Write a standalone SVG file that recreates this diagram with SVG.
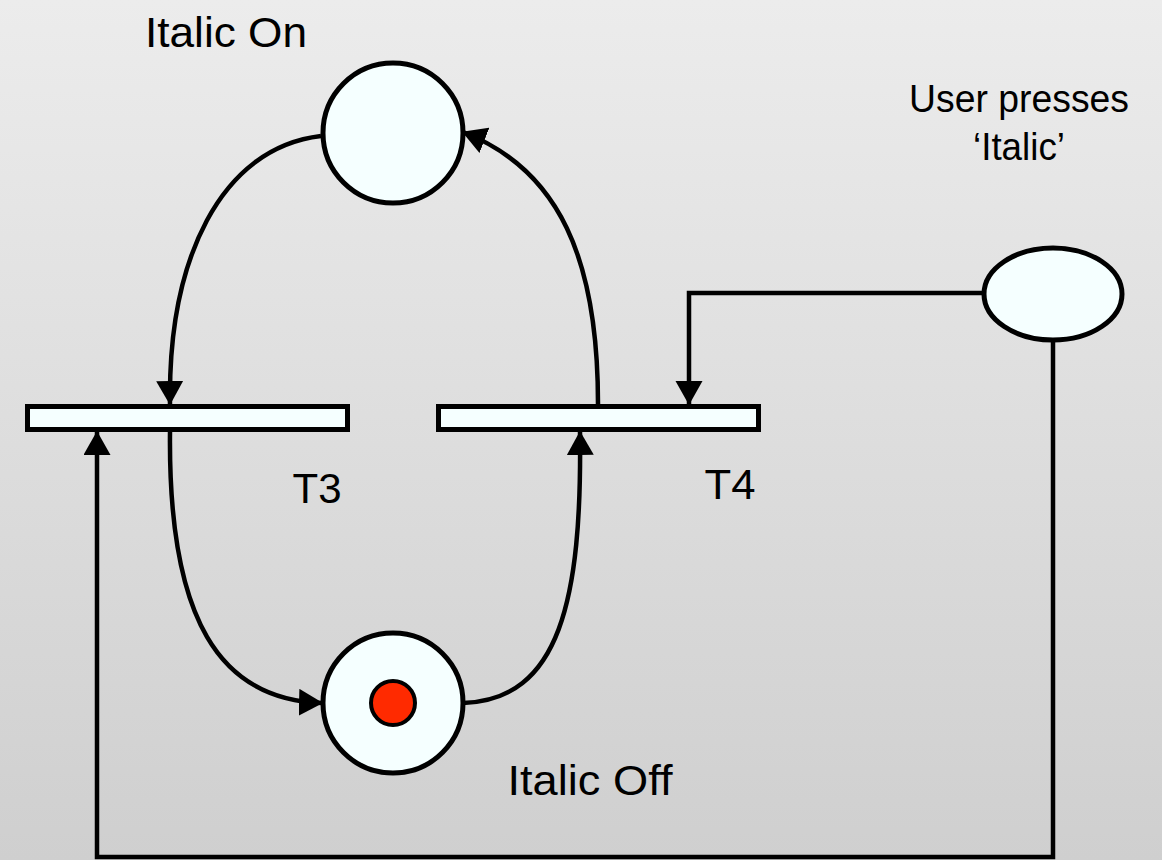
<svg xmlns="http://www.w3.org/2000/svg" width="1162" height="860" viewBox="0 0 1162 860">
<defs>
<linearGradient id="bg" x1="0" y1="0" x2="0" y2="1">
<stop offset="0" stop-color="#ececec"/>
<stop offset="1" stop-color="#cfcfcf"/>
</linearGradient>
<marker id="arr" markerUnits="userSpaceOnUse" markerWidth="26" markerHeight="28" viewBox="0 0 26 28" refX="23" refY="13.5" orient="auto">
<path d="M0,0 L24,13.5 L0,27 Z" fill="#000"/>
</marker>
</defs>
<style>
.node{fill:#f5ffff;stroke:#000;stroke-width:5}
.edge{fill:none;stroke:#000;stroke-width:4.5;marker-end:url(#arr)}
.lbl{font-family:"Liberation Sans",Arial,sans-serif;font-size:42px;fill:#000}
</style>
<rect x="0" y="0" width="1162" height="860" fill="url(#bg)"/>
<g id="connectors">
<path class="edge" d="M321 136 C220 148 168 260 170 404"/>
<path class="edge" d="M598 404 C598 260 560 170 463 132"/>
<path class="edge" d="M170 432 C168 620 220 700 322 703"/>
<path class="edge" d="M463 703 C560 700 582 600 580 432"/>
<path class="edge" d="M984 293 L689 293 L689 404"/>
<path class="edge" d="M1053 340 L1053 857 L97 857 L97 432"/>
</g>
<g id="italic-on">
<circle class="node" cx="393" cy="133" r="70"/>
<text class="lbl" x="226" y="47" text-anchor="middle" textLength="162" lengthAdjust="spacingAndGlyphs">Italic On</text>
</g>
<g id="italic-off">
<circle class="node" cx="393" cy="703" r="70"/>
<circle cx="393" cy="703" r="22" fill="#ff2a00" stroke="#000" stroke-width="4"/>
<text class="lbl" x="590" y="795" text-anchor="middle" textLength="165" lengthAdjust="spacingAndGlyphs">Italic Off</text>
</g>
<g id="t3">
<rect class="node" x="27.5" y="406.5" width="320" height="23"/>
<text class="lbl" x="317" y="503" text-anchor="middle" textLength="49" lengthAdjust="spacingAndGlyphs">T3</text>
</g>
<g id="t4">
<rect class="node" x="438.5" y="406.5" width="320" height="23"/>
<text class="lbl" x="730" y="499" text-anchor="middle" textLength="51" lengthAdjust="spacingAndGlyphs">T4</text>
</g>
<g id="user-presses">
<ellipse class="node" cx="1053" cy="294" rx="69" ry="46"/>
<text class="lbl" x="1019" y="112" text-anchor="middle" textLength="220" lengthAdjust="spacingAndGlyphs" style="font-size:38px">User presses</text>
<text class="lbl" x="1019" y="160" text-anchor="middle" textLength="92" lengthAdjust="spacingAndGlyphs" style="font-size:38px">‘Italic’</text>
</g>
</svg>
